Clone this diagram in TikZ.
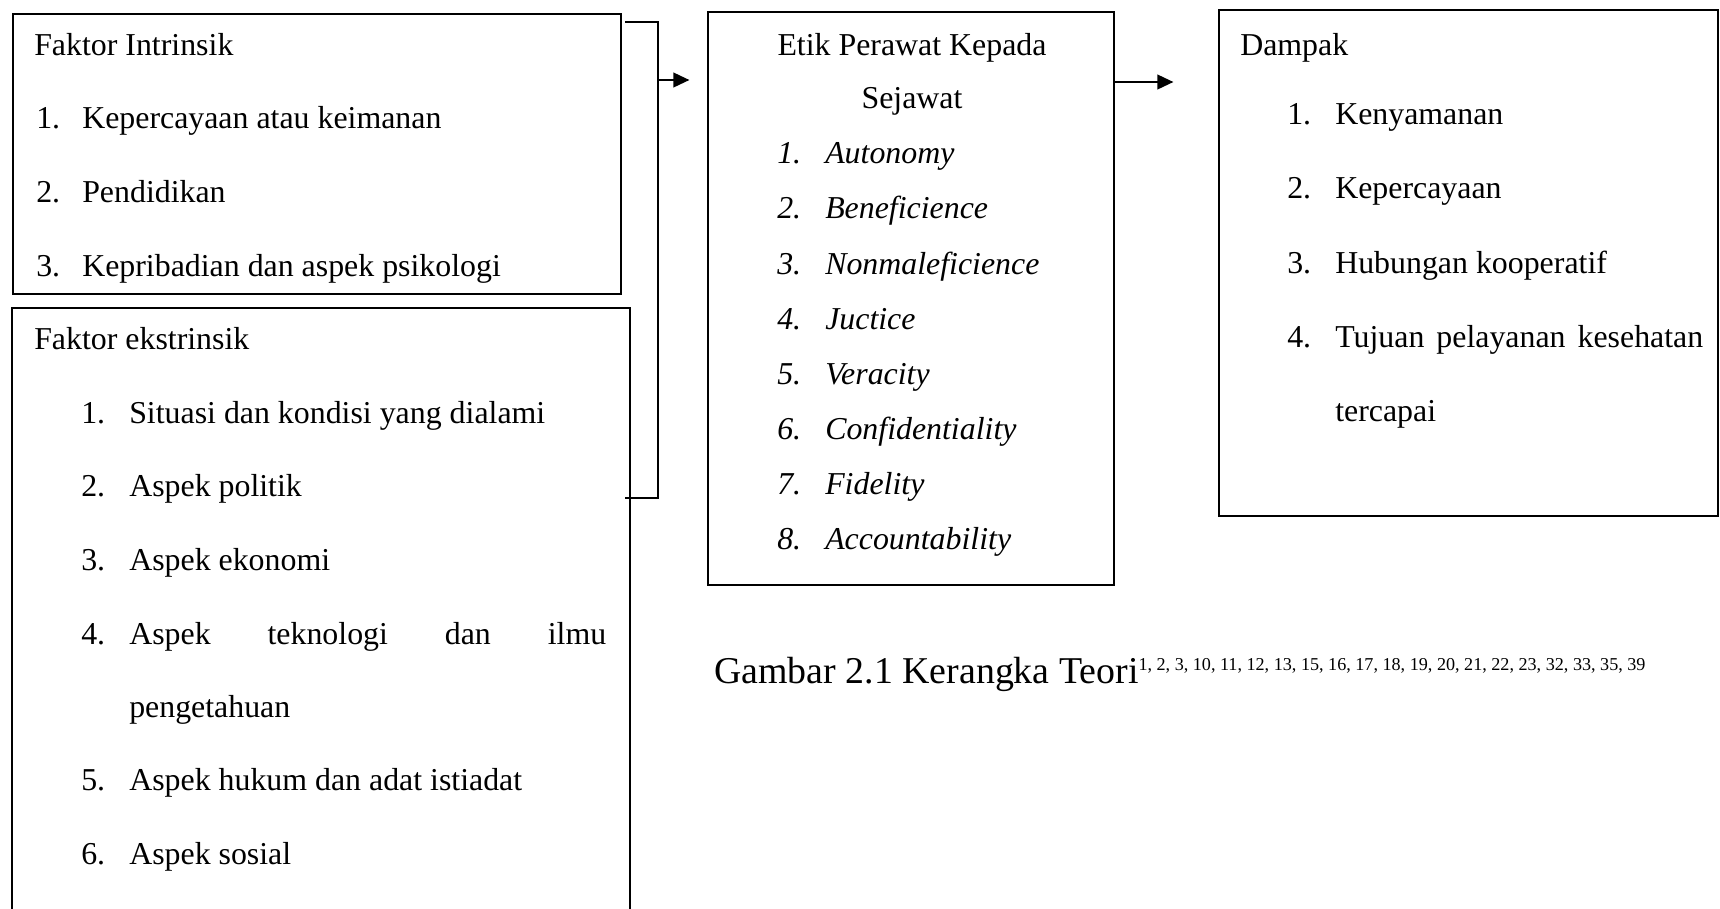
\documentclass[tikz,border=0pt]{standalone}
\usepackage{fontspec}
\setmainfont{Liberation Serif}
\usepackage{tikz}
\usetikzlibrary{arrows.meta,fit}

\tikzset{
  kotak/.style={draw, line width=0.9pt, inner sep=0pt},
  teks/.style={anchor=base west, inner sep=0pt, font=\fontsize{23.9}{28}\selectfont},
  miring/.style={teks, font=\fontsize{23.9}{28}\selectfont\itshape},
  garis/.style={line width=1.4pt},
  panah/.style={line width=1.4pt, -{Triangle[length=12pt,width=11pt]}}
}

\begin{document}
\begin{tikzpicture}[x=0.75pt,y=0.75pt,yscale=-1,xscale=1]
\useasboundingbox (0,0) rectangle (1720,908);
% kotak-kotak
\node[kotak, fit={(13,14) (621,294)}] (intrinsik) {};
\node[kotak, fit={(12,308) (630,940)}] (ekstrinsik) {};
\node[kotak, fit={(708,12) (1114,585)}] (etik) {};
\node[kotak, fit={(1219,10) (1718,516)}] (dampak) {};

% faktor intrinsik
\node[teks] (judulA) at (34,55) {Faktor Intrinsik};
\node[teks] (na1) at (36,128) {1.};
\node[teks] (ia1) at (82,128) {Kepercayaan atau keimanan};
\node[teks] (na2) at (36,202) {2.};
\node[teks] (ia2) at (82,202) {Pendidikan};
\node[teks] (na3) at (36,276) {3.};
\node[teks] (ia3) at (82,276) {Kepribadian dan aspek psikologi};

% faktor ekstrinsik
\node[teks] (judulB) at (34,349) {Faktor ekstrinsik};
\node[teks] (nb1) at (81,423) {1.};
\node[teks] (ib1) at (129,423) {Situasi dan kondisi yang dialami};
\node[teks] (nb2) at (81,496) {2.};
\node[teks] (ib2) at (129,496) {Aspek politik};
\node[teks] (nb3) at (81,570) {3.};
\node[teks] (ib3) at (129,570) {Aspek ekonomi};
\node[teks] (nb4) at (81,644) {4.};
\node[teks] (ib4) at (129,644) {\makebox[357.75pt][s]{Aspek teknologi dan ilmu}};
\node[teks] (ib4b) at (129,717) {pengetahuan};
\node[teks] (nb5) at (81,790) {5.};
\node[teks] (ib5) at (129,790) {Aspek hukum dan adat istiadat};
\node[teks] (nb6) at (81,864) {6.};
\node[teks] (ib6) at (129,864) {Aspek sosial};

% etik perawat
\node[teks, anchor=base] (judulC) at (912,55) {Etik Perawat Kepada};
\node[teks, anchor=base] (judulC2) at (912,108) {Sejawat};
\node[miring] (nc1) at (777,163) {1.};
\node[miring] (ic1) at (825,163) {Autonomy};
\node[miring] (nc2) at (777,218) {2.};
\node[miring] (ic2) at (825,218) {Beneficience};
\node[miring] (nc3) at (777,274) {3.};
\node[miring] (ic3) at (825,274) {Nonmaleficience};
\node[miring] (nc4) at (777,329) {4.};
\node[miring] (ic4) at (825,329) {Juctice};
\node[miring] (nc5) at (777,384) {5.};
\node[miring] (ic5) at (825,384) {Veracity};
\node[miring] (nc6) at (777,439) {6.};
\node[miring] (ic6) at (825,439) {Confidentiality};
\node[miring] (nc7) at (777,494) {7.};
\node[miring] (ic7) at (825,494) {Fidelity};
\node[miring] (nc8) at (777,549) {8.};
\node[miring] (ic8) at (825,549) {Accountability};

% dampak
\node[teks] (judulD) at (1240,55) {Dampak};
\node[teks] (nd1) at (1287,124) {1.};
\node[teks] (id1) at (1335,124) {Kenyamanan};
\node[teks] (nd2) at (1287,198) {2.};
\node[teks] (id2) at (1335,198) {Kepercayaan};
\node[teks] (nd3) at (1287,273) {3.};
\node[teks] (id3) at (1335,273) {Hubungan kooperatif};
\node[teks] (nd4) at (1287,347) {4.};
\node[teks] (id4) at (1335,347) {\makebox[276pt][s]{Tujuan pelayanan kesehatan}};
\node[teks] (id4b) at (1335,421) {tercapai};

% keterangan gambar
\node[teks, font=\fontsize{28.4}{32}\selectfont] (caption) at (714,683) {Gambar 2.1 Kerangka Teori\raisebox{9.5pt}{\fontsize{13.6}{16}\selectfont 1, 2, 3, 10, 11, 12, 13, 15, 16, 17, 18, 19, 20, 21, 22, 23, 32, 33, 35, 39}};

% penghubung
\coordinate (brkA) at (625,22);
\coordinate (brkB) at (625,498);
\coordinate (brkC) at (658,80);
\coordinate (arrB) at (1114,82);
\draw[garis] (brkA) -| (brkC |- brkB) -- (brkB);
\draw[panah, shorten >=13.5pt] (brkC) -- (brkC -| etik.west);
\draw[panah, shorten >=33.75pt] (arrB) -- (arrB -| dampak.west);
\end{tikzpicture}
\end{document}
